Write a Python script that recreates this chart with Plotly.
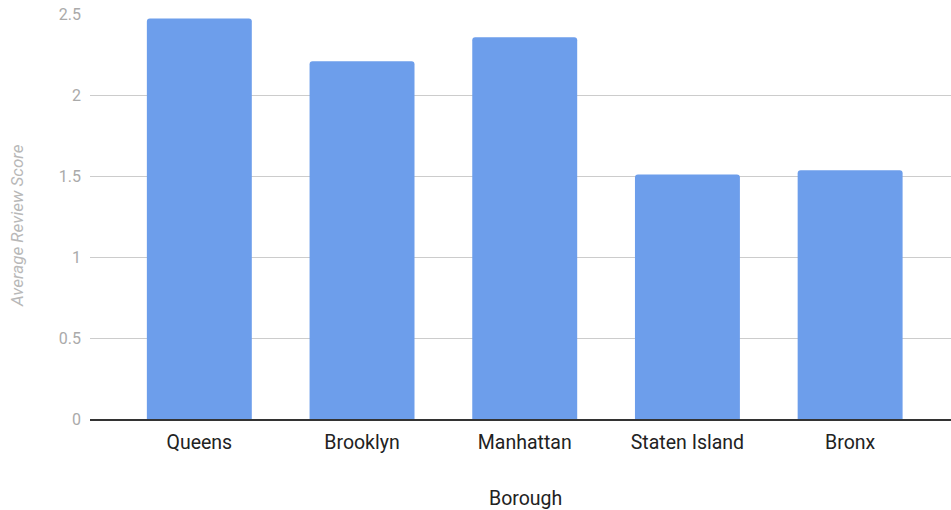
import plotly.graph_objects as go

boroughs = ["Queens", "Brooklyn", "Manhattan", "Staten Island", "Bronx"]
avg_scores = [2.472, 2.208, 2.356, 1.510, 1.535]
y_ticks = [0, 0.5, 1, 1.5, 2, 2.5]
y_tick_labels = ["0", "0.5", "1", "1.5", "2", "2.5"]

W, H = 951, 510
L, R, T, B = 90, 0, 14, 91

fig = go.Figure(go.Bar(
    x=boroughs, y=avg_scores,
    marker=dict(color="#6d9eeb", line=dict(width=0), cornerradius=3),
    width=0.645,
))

fig.update_layout(
    width=W, height=H,
    margin=dict(l=L, r=R, t=T, b=B),
    paper_bgcolor="white", plot_bgcolor="white",
    font=dict(family="Roboto, Arial, sans-serif"),
    showlegend=False,
)
fig.update_xaxes(
    range=[-0.672, 4.62],
    showline=True, linecolor="#333333", linewidth=1.5,
    showgrid=False, ticks="",
    ticklabelstandoff=5,
    tickfont=dict(size=19.5, color="#222222"),
)
fig.update_yaxes(
    range=[0, 2.5],
    tickvals=y_ticks, ticktext=y_tick_labels,
    showgrid=True, gridcolor="#cccccc", gridwidth=1,
    zeroline=False, showline=False, ticks="",
    ticklabelstandoff=8,
    tickfont=dict(size=16, color="#aaaaaa"),
)

pw = W - L - R
ph = H - T - B
fig.add_annotation(
    text="<i>Average Review Score</i>", textangle=-90, showarrow=False,
    xref="paper", yref="paper",
    x=(17 - L) / pw, y=(H - B - 226) / ph,
    xanchor="center", yanchor="middle",
    font=dict(size=17, color="#b8b8b8", family="Roboto, Arial, sans-serif"),
)
fig.add_annotation(
    text="Borough", showarrow=False,
    xref="paper", yref="paper",
    x=(525 - L) / pw, y=(H - B - 498) / ph,
    xanchor="center", yanchor="middle",
    font=dict(size=19.5, color="#222222", family="Roboto, Arial, sans-serif"),
)

fig.write_html(
    "out.html",
    config={"displayModeBar": False},
    post_script="document.body.style.margin='0';document.body.style.overflow='hidden';",
)
